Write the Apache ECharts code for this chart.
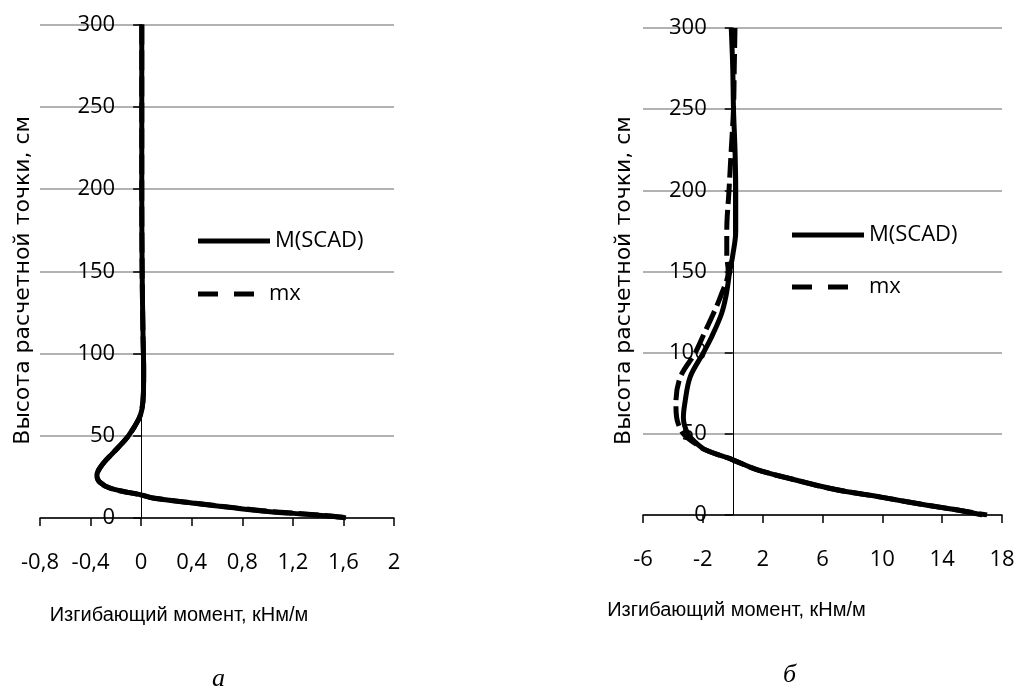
<!DOCTYPE html>
<html>
<head>
<meta charset="utf-8">
<script src="https://cdn.jsdelivr.net/npm/echarts@6/dist/echarts.min.js"></script>
<style>
  html, body { margin: 0; padding: 0; background: #fff; }
  #chart { width: 1016px; height: 689px; }
</style>
</head>
<body>
<div id="chart"></div>
<script>
// высоты расчетных точек, см
var heightsA = [300, 250, 200, 150, 110, 90, 76, 66, 60, 50, 43, 35, 30, 26, 22, 18, 14, 12, 9, 6, 4, 2, 1, 0];
// (а) изгибающий момент, кНм/м
var mScadA = [0.005, 0.005, 0.005, 0.008, 0.015, 0.02, 0.018, 0.006, -0.02, -0.1, -0.18, -0.28, -0.33, -0.35, -0.33, -0.24, 0.0, 0.1, 0.42, 0.75, 1.0, 1.35, 1.5, 1.62];
var mxA = [0.005, 0.005, 0.005, 0.008, 0.015, 0.02, 0.018, 0.006, -0.02, -0.1, -0.18, -0.28, -0.33, -0.35, -0.33, -0.24, 0.0, 0.11, 0.43, 0.77, 1.02, 1.37, 1.52, 1.65];

var heightsB = [300, 275, 250, 225, 200, 175, 160, 150, 135, 124, 110, 100, 85, 69, 60, 50, 44, 40, 34, 28, 22, 16, 11, 6, 2.5, 0];
// (б)
var mScadB = [-0.1, 0.0, 0.05, 0.15, 0.2, 0.2, 0.0, -0.2, -0.45, -0.75, -1.4, -1.96, -2.85, -3.2, -3.3, -3.0, -2.4, -1.8, 0.0, 1.6, 4.0, 6.7, 9.9, 13.0, 15.4, 16.7];
var mxB = [0.15, 0.1, 0.05, -0.1, -0.25, -0.4, -0.4, -0.3, -0.8, -1.3, -2.0, -2.5, -3.5, -3.8, -3.75, -3.3, -2.5, -1.8, 0.0, 1.6, 4.0, 6.7, 9.9, 13.0, 15.4, 17.0];

var xMinA = -0.8, xMaxA = 2, xStepA = 0.4;
var xMinB = -6, xMaxB = 18, xStepB = 4;

var xNameText = 'Изгибающий момент, кНм/м';
var yNameText = 'Высота расчетной точки, см';

function pairs(xs, hs) {
  return hs.map(function (h, i) { return [xs[i], h]; });
}
function commaFmt(v) {
  return String(Math.round(v * 10) / 10).replace('.', ',');
}

var font = 'Open Sans';
var gridA = { left: 40, right: 622, top: 24.5, bottom: 171 };
var gridB = { left: 643, right: 14, top: 28, bottom: 174 };
var W = 1016;

// ось Y проходит через x = 0
function zeroOffset(g, min, max) {
  var w = W - g.left - g.right;
  return -(0 - min) / (max - min) * w;
}

var chart = echarts.init(document.getElementById('chart'), null, { renderer: 'canvas' });

function xAxisOf(gi, min, max, step, shift, gap) {
  return {
    type: 'value', gridIndex: gi, min: min, max: max, interval: step,
    name: xNameText, nameLocation: 'middle', nameGap: gap, nameMoveOverlap: false,
    nameTextStyle: { color: '#000', fontFamily: 'Liberation Sans', fontSize: 20, lineHeight: 20, padding: [0, shift * 2, 0, 0] },
    axisLine: { onZero: false, lineStyle: { color: '#000', width: 1.5 } },
    axisTick: { length: 8, lineStyle: { color: '#000', width: 1.5 } },
    axisLabel: { color: '#000', fontFamily: font, fontSize: 22, margin: 34, formatter: commaFmt, showMinLabel: true, showMaxLabel: true },
    splitLine: { show: false }
  };
}
function yAxisOf(gi, offset, gap) {
  return {
    type: 'value', gridIndex: gi, min: 0, max: 300, interval: 50,
    position: 'left', offset: offset,
    name: yNameText, nameLocation: 'middle', nameGap: gap, nameMoveOverlap: false,
    nameTextStyle: { color: '#000', fontFamily: 'DejaVu Sans', fontSize: 22, lineHeight: 22, padding: [0, 18, 0, 0] },
    axisLine: { onZero: false, lineStyle: { color: '#000', width: 1 } },
    axisTick: { length: 8, lineStyle: { color: '#000', width: 1.5 } },
    axisLabel: { color: '#000', fontFamily: font, fontSize: 22, margin: 26, showMinLabel: true, showMaxLabel: true },
    splitLine: { show: true, lineStyle: { color: '#999', width: 1.5 } }
  };
}
function lineSeries(name, gi, data, dashed) {
  return {
    name: name, type: 'line', xAxisIndex: gi, yAxisIndex: gi,
    data: data, smooth: 0.35, symbol: 'none', z: dashed ? 4 : 3,
    lineStyle: { color: '#000', width: 5, type: dashed ? [20, 6] : 'solid' },
    itemStyle: { color: '#000' }
  };
}
// значки легенды: сплошная и штриховая линии
function solidIcon(w) {
  return 'path://M0,0H' + w + 'V5H0Z';
}
function dashIcon(w) {
  return 'path://M0,0H20V5H0Z M36,0H56V5H36Z M' + (w - 0.1) + ',2.4H' + w + 'V2.6H' + (w - 0.1) + 'Z';
}
function legendOf(name, icon, w, left, top) {
  return {
    data: [{ name: name, icon: icon }],
    left: left, top: top, padding: 0,
    itemWidth: w, itemHeight: 5,
    textStyle: { color: '#000', fontFamily: font, fontSize: 22, lineHeight: 22 },
    selectedMode: false
  };
}

chart.setOption({
  backgroundColor: '#fff',
  animation: false,
  title: [
    { text: 'а', left: 212, top: 666, padding: 0, textStyle: { fontFamily: 'Liberation Serif', fontStyle: 'italic', fontWeight: 'normal', fontSize: 26, color: '#000' } },
    { text: 'б', left: 783, top: 662, padding: 0, textStyle: { fontFamily: 'Liberation Serif', fontStyle: 'italic', fontWeight: 'normal', fontSize: 26, color: '#000' } }
  ],
  legend: [
    legendOf('M(SCAD)', solidIcon(72), 72, 198, 230),
    legendOf('mx', dashIcon(66), 66, 198, 283),
    legendOf('M(SCAD)', solidIcon(72), 72, 792, 224),
    legendOf('mx', dashIcon(72), 72, 792, 276)
  ],
  grid: [
    { left: gridA.left, right: gridA.right, top: gridA.top, bottom: gridA.bottom, outerBoundsMode: 'none' },
    { left: gridB.left, right: gridB.right, top: gridB.top, bottom: gridB.bottom, outerBoundsMode: 'none' }
  ],
  xAxis: [
    xAxisOf(0, xMinA, xMaxA, xStepA, 38, 87),
    xAxisOf(1, xMinB, xMaxB, xStepB, 86, 85)
  ],
  yAxis: [
    yAxisOf(0, zeroOffset(gridA, xMinA, xMaxA), 107),
    yAxisOf(1, zeroOffset(gridB, xMinB, xMaxB), 97)
  ],
  series: [
    lineSeries('M(SCAD)', 0, pairs(mScadA, heightsA), false),
    lineSeries('mx', 0, pairs(mxA, heightsA), true),
    lineSeries('M(SCAD)', 1, pairs(mScadB, heightsB), false),
    lineSeries('mx', 1, pairs(mxB, heightsB), true)
  ]
});
</script>
</body>
</html>
